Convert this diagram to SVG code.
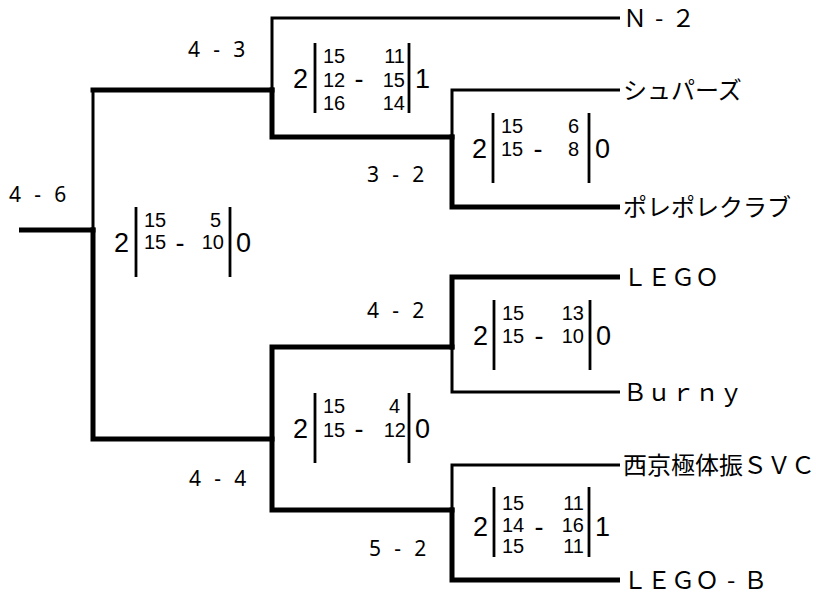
<svg xmlns="http://www.w3.org/2000/svg" width="816" height="596" viewBox="0 0 816 596">
<style>
.thick{fill:none;stroke:#000;stroke-width:5;stroke-linecap:square;stroke-linejoin:miter}
.thin{fill:none;stroke:#000;stroke-width:3;stroke-linecap:square;stroke-linejoin:miter}
.bar{stroke:#000;stroke-width:2.8}
.big{font-family:"Liberation Sans",Arial,sans-serif;font-size:27px;fill:#000}
.sm{font-family:"Liberation Sans",Arial,sans-serif;font-size:20px;fill:#000}
.score{font-family:"Noto Sans","DejaVu Sans",sans-serif;font-size:21px;letter-spacing:3.9px;fill:#000}
.name{font-family:"Noto Sans CJK JP","Noto Sans CJK SC",sans-serif;font-size:24px;fill:#000}
.e{text-anchor:end}
.m{text-anchor:middle}
</style>
<rect width="816" height="596" fill="#fff"/>
<g id="connectors">
<path class="thin" d="M93 90 V230"/>
<path class="thin" d="M272 90 V18 H618.5"/>
<path class="thin" d="M452 137 V90 H618.5"/>
<path class="thin" d="M452 347 V392 H618.5"/>
<path class="thin" d="M452 510 V465 H618.5"/>
<path class="thick" d="M21.5 230 H93"/>
<path class="thick" d="M93 230 V439 H272"/>
<path class="thick" d="M93 90 H272"/>
<path class="thick" d="M272 90 V137 H452"/>
<path class="thick" d="M452 137 V207 H617.5"/>
<path class="thick" d="M452 347 H272 V510 H452"/>
<path class="thick" d="M452 347 V277 H617.5"/>
<path class="thick" d="M452 510 V580 H617.5"/>
</g>
<g id="scores">
<text class="score" x="9" y="202">4 - 6</text>
<text class="score" x="188" y="57">4 - 3</text>
<text class="score" x="367" y="182">3 - 2</text>
<text class="score" x="367" y="318">4 - 2</text>
<text class="score" x="189" y="486">4 - 4</text>
<text class="score" x="369" y="556">5 - 2</text>
</g>
<g id="teams">
<text id="t-n2" class="name" x="623" y="26.5">Ｎ<tspan dx="8">-</tspan><tspan dx="8">２</tspan></text>
<text id="t-shupa" class="name" x="623" y="98.5">シュパーズ</text>
<text id="t-pore" class="name" x="623" y="215.5">ポレポレクラブ</text>
<text id="t-lego" class="name" x="623" y="285.5">ＬＥＧＯ</text>
<text id="t-burny" class="name" x="623" y="400.5">Ｂｕｒｎｙ</text>
<text id="t-saikyo" class="name" x="623" y="473.5">西京極体振ＳＶＣ</text>
<text id="t-legob" class="name" x="623" y="588.5">ＬＥＧＯ<tspan dx="8">-</tspan><tspan dx="8">Ｂ</tspan></text>
</g>
<g id="box-final" transform="translate(136,242)">
<line class="bar" x1="0" y1="-35" x2="0" y2="35"/><line class="bar" x1="94" y1="-35" x2="94" y2="35"/>
<text class="big e" x="-7" y="10">2</text><text class="big m" x="44" y="10">-</text><text class="big" x="100" y="10">0</text>
<text class="sm" x="8" y="-15">15</text><text class="sm" x="8" y="7">15</text>
<text class="sm e" x="85" y="-15">5</text><text class="sm e" x="88" y="7">10</text>
</g>
<g id="box-sf1" transform="translate(315,78)">
<line class="bar" x1="0" y1="-35" x2="0" y2="35"/><line class="bar" x1="94" y1="-35" x2="94" y2="35"/>
<text class="big e" x="-7" y="10">2</text><text class="big m" x="44" y="10">-</text><text class="big" x="100" y="10">1</text>
<text class="sm" x="8" y="-15">15</text><text class="sm" x="8" y="8.5">12</text><text class="sm" x="8" y="32">16</text>
<text class="sm e" x="90" y="-15">11</text><text class="sm e" x="90" y="8.5">15</text><text class="sm e" x="90" y="32">14</text>
</g>
<g id="box-qf1" transform="translate(493,148)">
<line class="bar" x1="0" y1="-35" x2="0" y2="35"/><line class="bar" x1="96" y1="-35" x2="96" y2="35"/>
<text class="big e" x="-6" y="10">2</text><text class="big m" x="45" y="10">-</text><text class="big" x="102" y="10">0</text>
<text class="sm" x="8" y="-15">15</text><text class="sm" x="8" y="8">15</text>
<text class="sm e" x="86" y="-15">6</text><text class="sm e" x="86" y="8">8</text>
</g>
<g id="box-qf3" transform="translate(494,335)">
<line class="bar" x1="0" y1="-35" x2="0" y2="35"/><line class="bar" x1="96" y1="-35" x2="96" y2="35"/>
<text class="big e" x="-6" y="10">2</text><text class="big m" x="45" y="10">-</text><text class="big" x="102" y="10">0</text>
<text class="sm" x="8" y="-15">15</text><text class="sm" x="8" y="8">15</text>
<text class="sm e" x="90" y="-15">13</text><text class="sm e" x="90" y="8">10</text>
</g>
<g id="box-sf2" transform="translate(315,428)">
<line class="bar" x1="0" y1="-35" x2="0" y2="35"/><line class="bar" x1="94" y1="-35" x2="94" y2="35"/>
<text class="big e" x="-7" y="10">2</text><text class="big m" x="44" y="10">-</text><text class="big" x="100" y="10">0</text>
<text class="sm" x="8" y="-15">15</text><text class="sm" x="8" y="9">15</text>
<text class="sm e" x="85" y="-15">4</text><text class="sm e" x="91" y="9">12</text>
</g>
<g id="box-qf4" transform="translate(494,522)">
<line class="bar" x1="0" y1="-35" x2="0" y2="35"/><line class="bar" x1="95" y1="-35" x2="95" y2="35"/>
<text class="big e" x="-6" y="14">2</text><text class="big m" x="45" y="14">-</text><text class="big" x="101" y="14">1</text>
<text class="sm" x="8" y="-12">15</text><text class="sm" x="8" y="10">14</text><text class="sm" x="8" y="31">15</text>
<text class="sm e" x="90" y="-12">11</text><text class="sm e" x="90" y="10">16</text><text class="sm e" x="90" y="31">11</text>
</g>
</svg>
